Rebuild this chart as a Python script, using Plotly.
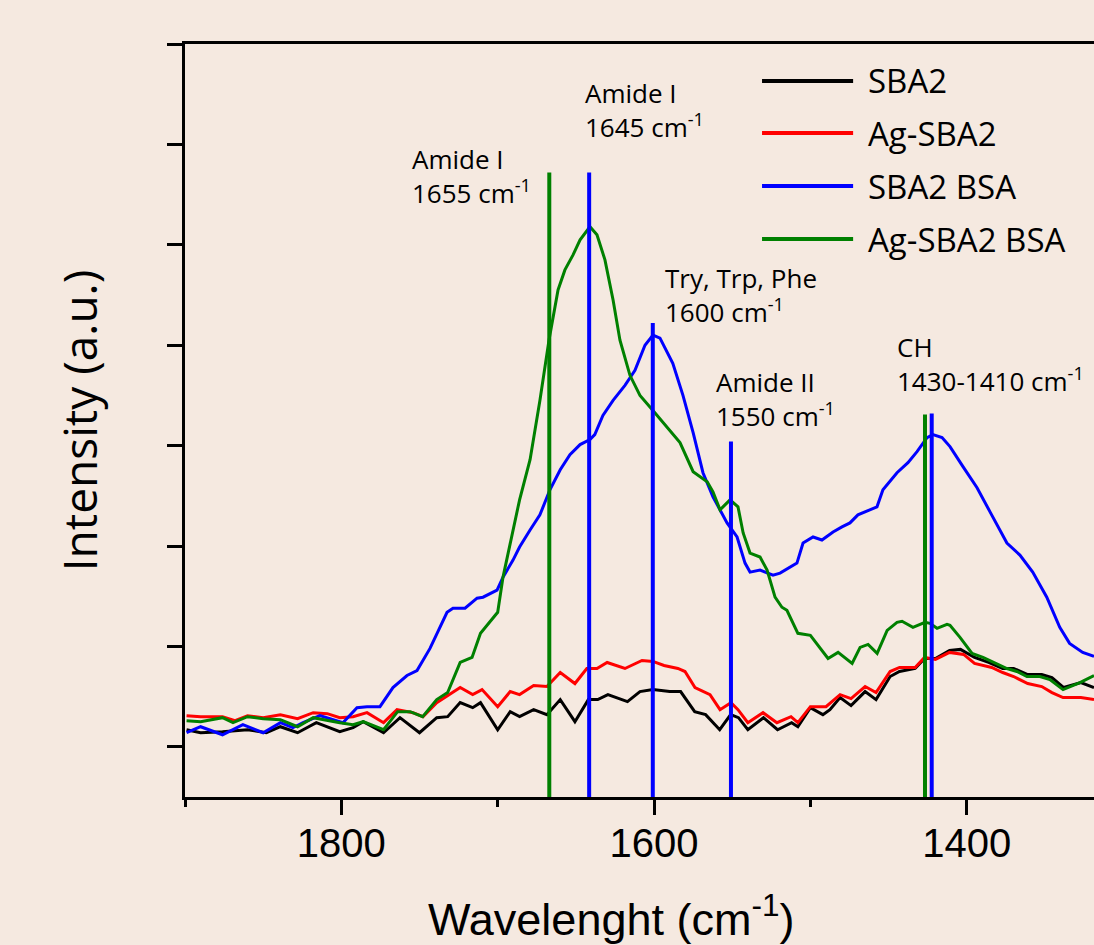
import plotly.graph_objects as go

# ---------------- data ----------------
sba2_wn = [1899, 1890, 1876, 1860, 1848, 1839, 1828, 1816, 1801, 1792.5, 1786, 1773, 1762.5, 1750,
           1739, 1732, 1724, 1716, 1711, 1700, 1692, 1686, 1677, 1668.5, 1660, 1650.6, 1642, 1636,
           1629.5, 1617, 1609, 1600.7, 1590, 1583, 1574, 1567, 1558, 1551, 1546, 1540, 1530, 1521,
           1512, 1508, 1500, 1492, 1487.5, 1481, 1474, 1465, 1458, 1449, 1443, 1433, 1427, 1420,
           1411, 1404, 1395, 1386, 1377, 1370, 1361, 1352, 1345.5, 1338, 1327, 1318.6]
sba2_int = [0.67, 0.64, 0.65, 0.67, 0.64, 0.70, 0.64, 0.74, 0.65, 0.69, 0.75, 0.64, 0.79, 0.64,
            0.79, 0.80, 0.94, 0.89, 0.94, 0.67, 0.85, 0.80, 0.87, 0.82, 0.97, 0.75, 0.97, 0.97,
            1.02, 0.95, 1.05, 1.07, 1.05, 1.05, 0.85, 0.82, 0.67, 0.82, 0.79, 0.67, 0.79, 0.67,
            0.74, 0.70, 0.89, 0.82, 0.87, 0.99, 0.91, 1.05, 0.97, 1.20, 1.25, 1.28, 1.38, 1.38,
            1.46, 1.47, 1.39, 1.34, 1.28, 1.28, 1.22, 1.22, 1.19, 1.09, 1.14, 1.09]

ag_sba2_wn = [1899, 1890, 1876, 1868, 1860, 1850, 1839, 1828, 1818, 1809, 1801, 1792.5, 1783.6, 1773,
              1764.4, 1754.2, 1747.8, 1739, 1724, 1716, 1710, 1700, 1692, 1686, 1677, 1668.5, 1660,
              1650.6, 1643, 1636.5, 1630, 1618.6, 1607.7, 1600.7, 1593.6, 1584.7, 1580.2, 1573.8,
              1564.2, 1557.8, 1550.8, 1546.3, 1540, 1530.3, 1521.4, 1512.4, 1508, 1500, 1490, 1481,
              1474, 1465, 1458, 1449, 1443, 1433, 1427, 1420, 1411, 1402, 1395, 1384, 1377, 1370,
              1361, 1352, 1345.5, 1338.4, 1327, 1318.6]
ag_sba2_int = [0.81, 0.80, 0.80, 0.76, 0.81, 0.79, 0.82, 0.78, 0.84, 0.83, 0.79, 0.80, 0.84, 0.74,
               0.87, 0.84, 0.80, 0.94, 1.09, 1.02, 1.07, 0.90, 1.05, 1.02, 1.11, 1.10, 1.24,
               1.13, 1.28, 1.28, 1.34, 1.28, 1.36, 1.35, 1.31, 1.28, 1.25, 1.09,
               1.02, 0.87, 0.94, 0.87, 0.74, 0.84, 0.74, 0.80, 0.74, 0.90, 0.90, 1.02,
               0.98, 1.10, 1.04, 1.25, 1.29, 1.29, 1.39, 1.37, 1.44, 1.42, 1.33, 1.29, 1.24, 1.20,
               1.13, 1.10, 1.04, 0.99, 0.99, 0.97]

sba2_bsa_wn = [1899, 1890, 1876, 1863, 1850, 1839, 1831, 1824.5, 1813.7, 1805.3, 1799, 1790, 1783.6,
               1775.3, 1767, 1758, 1751.6, 1743.3, 1732.4, 1728.6, 1720.9, 1713.2, 1709.4, 1700.4,
               1696.6, 1690.2, 1686, 1679.3, 1673, 1666.6, 1660, 1653.8, 1647.3, 1641, 1637.9,
               1632.7, 1626.2, 1618.6, 1612.2, 1605.8, 1600.7, 1596.2, 1588, 1581.5, 1575, 1568.7,
               1562.3, 1553.3, 1546.9, 1541.8, 1538.6, 1532.2, 1523.9, 1519.4, 1513, 1508.6, 1504.7,
               1498.3, 1492.6, 1485.5, 1479.8, 1474.7, 1469.6, 1457.4, 1453.6, 1444.6, 1437.6,
               1431.8, 1425.4, 1421.6, 1415.8, 1410.7, 1402.4, 1393.4, 1385.1, 1374.3, 1366,
               1357.8, 1348.8, 1340.5, 1334.2, 1325.8, 1318.6]
sba2_bsa_int = [0.64, 0.70, 0.62, 0.72, 0.64, 0.74, 0.69, 0.74, 0.81, 0.77, 0.74, 0.89, 0.90,
                0.90, 1.09, 1.21, 1.26, 1.48, 1.84, 1.88, 1.88, 1.98, 1.99, 2.06,
                2.19, 2.36, 2.49, 2.66, 2.81, 3.06, 3.26, 3.41, 3.51, 3.56, 3.61,
                3.80, 3.95, 4.10, 4.25, 4.50, 4.60, 4.57, 4.32, 4.00, 3.63, 3.23,
                2.99, 2.73, 2.59, 2.33, 2.24, 2.26, 2.21, 2.23, 2.29, 2.33, 2.53,
                2.59, 2.56, 2.64, 2.69, 2.73, 2.81, 2.89, 3.06, 3.23, 3.33,
                3.44, 3.58, 3.61, 3.58, 3.49, 3.29, 3.08, 2.84, 2.53, 2.41,
                2.24, 1.99, 1.69, 1.53, 1.44, 1.40]

ag_sba2_bsa_wn = [1899, 1890, 1876, 1869.3, 1860, 1850, 1839, 1828, 1818, 1809, 1801, 1792.5, 1786,
                  1773, 1764, 1756, 1748, 1739, 1732, 1724, 1716.4, 1711, 1700, 1696.6, 1692, 1686,
                  1679.3, 1673, 1667.2, 1661.4, 1657, 1651.8, 1647.3, 1641, 1636.5, 1631.4, 1626.2,
                  1621.8, 1615.4, 1609, 1600.7, 1593, 1583.4, 1575, 1566, 1562.3, 1557.8, 1551.4,
                  1546.3, 1543, 1538.6, 1532.2, 1527.7, 1522.6, 1518.2, 1515, 1508, 1500, 1488.7,
                  1482.3, 1473.3, 1468.2, 1463.1, 1457.3, 1450.9, 1444.6, 1441.4, 1434.4, 1426.7,
                  1423.5, 1419, 1412.6, 1410.7, 1404.3, 1396.6, 1389.6, 1380.6, 1374.3, 1367.9,
                  1361.5, 1353.2, 1346.8, 1338.4, 1327.6, 1318.6]
ag_sba2_bsa_int = [0.76, 0.75, 0.79, 0.74, 0.80, 0.78, 0.77, 0.70, 0.79, 0.76, 0.74, 0.72, 0.75,
                   0.67, 0.85, 0.85, 0.80, 0.97, 1.04, 1.34, 1.39, 1.63, 1.84, 2.19, 2.51, 2.96,
                   3.36, 3.95, 4.55, 5.05, 5.25, 5.40, 5.55, 5.68, 5.60, 5.35, 4.95,
                   4.55, 4.20, 4.00, 3.85, 3.71, 3.53, 3.24, 3.14, 3.04, 2.86, 2.96,
                   2.89, 2.63, 2.43, 2.39, 2.26, 1.99, 1.89, 1.86, 1.63, 1.61, 1.38,
                   1.44, 1.33, 1.49, 1.52, 1.43, 1.66, 1.74, 1.75, 1.69, 1.74,
                   1.73, 1.68, 1.72, 1.71, 1.59, 1.43, 1.39, 1.33, 1.28, 1.25,
                   1.20, 1.20, 1.17, 1.07, 1.14, 1.21]

series_names = ["SBA2", "Ag-SBA2", "SBA2 BSA", "Ag-SBA2 BSA"]
series_wn = [sba2_wn, ag_sba2_wn, sba2_bsa_wn, ag_sba2_bsa_wn]
series_int = [sba2_int, ag_sba2_int, sba2_bsa_int, ag_sba2_bsa_int]
series_colors = ["#000000", "#FF0000", "#0000FF", "#008000"]

# band markers (vertical lines)
band_wn = [1667.0, 1641.5, 1600.8, 1550.8, 1426.7, 1422.4]
band_top = [6.22, 6.22, 4.72, 3.54, 3.81, 3.82]
band_colors = ["#008000", "#0000FF", "#0000FF", "#0000FF", "#008000", "#0000FF"]

# band labels
label_lines = [("Amide I", "1655 cm<sup>-1</sup>"),
               ("Amide I", "1645 cm<sup>-1</sup>"),
               ("Try, Trp, Phe", "1600 cm<sup>-1</sup>"),
               ("Amide II", "1550 cm<sup>-1</sup>"),
               ("CH", "1430-1410 cm<sup>-1</sup>")]
label_wn = [1756, 1645.4, 1594.3, 1561.6, 1445.9]
label_int = [6.19, 6.84, 5.00, 3.96, 4.31]

x_range = [1900, 1318.6]
y_range = [0, 7.5]
y_ticks = [0.5, 1.5, 2.5, 3.5, 4.5, 5.5, 6.5, 7.5]

x_title = "Wavelenght (cm<sup>-1</sup>)"
y_title = "Intensity (a.u.)"

BG = "#F5E9E0"
W, H = 1094, 945
ML, MR, MT, MB = 185, 0, 44, 148

fig = go.Figure()
for name, xs, ys, col in zip(series_names, series_wn, series_int, series_colors):
    fig.add_trace(go.Scatter(x=xs, y=ys, mode="lines", name=name,
                             line=dict(color=col, width=3), showlegend=False))

for w, top, col in zip(band_wn, band_top, band_colors):
    fig.add_trace(go.Scatter(x=[w, w], y=[0, top], mode="lines",
                             line=dict(color=col, width=4), showlegend=False, hoverinfo="skip"))

for (l1, l2), xw, yi in zip(label_lines, label_wn, label_int):
    fig.add_annotation(x=xw, y=yi, xref="x", yref="y", text=l1 + "<br>" + l2,
                       showarrow=False, xanchor="left", yanchor="middle", align="left",
                       font=dict(family="Open Sans", size=26, color="black"))

# legend (drawn to match the long line samples of the original)
leg_x0, leg_x1, leg_tx = 0.6348, 0.735, 0.749
leg_y = [0.9509, 0.8818, 0.8114, 0.7410]
for name, col, yy in zip(series_names, series_colors, leg_y):
    fig.add_shape(type="line", xref="paper", yref="paper", x0=leg_x0, x1=leg_x1, y0=yy, y1=yy,
                  line=dict(color=col, width=4))
    fig.add_annotation(x=leg_tx, y=yy, xref="paper", yref="paper", text=name, showarrow=False,
                       xanchor="left", yanchor="middle",
                       font=dict(family="Open Sans", size=33, color="black"))

# x-axis title (placed like the original, left of the plot-area centre)
fig.add_annotation(x=0.4686, y=-0.158, xref="paper", yref="paper", text=x_title,
                   showarrow=False, xanchor="center", yanchor="middle",
                   font=dict(family="Liberation Sans", size=45, color="black"))

fig.update_layout(
    width=W, height=H,
    margin=dict(l=ML, r=MR, t=MT, b=MB, pad=0),
    paper_bgcolor=BG, plot_bgcolor=BG,
    showlegend=False,
    xaxis=dict(range=x_range, showgrid=False, zeroline=False,
               showline=True, linecolor="black", linewidth=3, mirror=True,
               tickmode="linear", tick0=1400, dtick=200,
               ticks="outside", ticklen=15, tickwidth=3, tickcolor="black",
               ticklabelstandoff=-6,
               minor=dict(dtick=100, tick0=1400, ticks="outside", ticklen=7, tickwidth=3, tickcolor="black"),
               tickfont=dict(family="Liberation Sans", size=40, color="black")),
    yaxis=dict(range=y_range, showgrid=False, zeroline=False,
               showline=True, linecolor="black", linewidth=3,
               tickmode="array", tickvals=y_ticks, showticklabels=False,
               ticks="outside", ticklen=15, tickwidth=3, tickcolor="black",
               title=dict(text=y_title, standoff=55,
                          font=dict(family="Open Sans", size=46, color="black"))),
)

fig.write_html(
    "out.html",
    config={"displayModeBar": False},
    post_script=("document.body.style.margin='0px';"
                 "document.body.style.overflow='hidden';"
                 "document.documentElement.style.overflow='hidden';"
                 "document.body.style.background='" + BG + "';"),
)
